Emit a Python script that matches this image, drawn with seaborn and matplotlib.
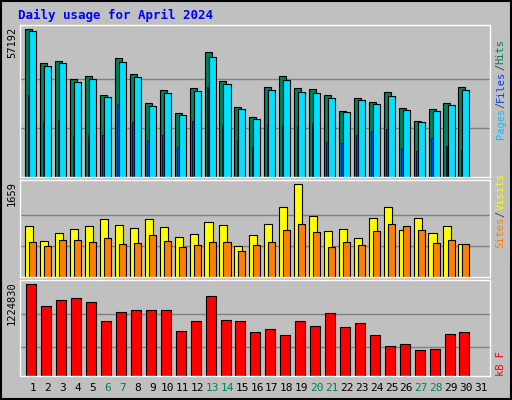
import numpy as np
import seaborn as sns
import matplotlib.pyplot as plt

days = np.arange(1, 31)
hits = [57192, 43990, 44770, 37780, 38950, 31570, 45930, 39720, 28470, 33640,
        24970, 34290, 48260, 37010, 27300, 23420, 34680, 38950, 34290, 33900,
        31570, 25750, 30410, 29240, 32740, 26910, 21870, 26530, 28850, 34680]
files = [56680, 43090, 44250, 36880, 38040, 31060, 44640, 38820, 27560, 32610,
         24070, 33390, 46580, 36100, 26400, 22520, 33770, 37660, 33000, 32610,
         30670, 25230, 29890, 28340, 31440, 26010, 21350, 25620, 27950, 33770]
pages = [31830, 21350, 22130, 15920, 16300, 16300, 28340, 21350, 14360, 16300,
         11650, 21740, 34940, 20190, 14360, 11650, 20570, 20190, 19800, 20960,
         13590, 13200, 16300, 17860, 18630, 11260, 10090, 15140, 12030, 10480]
visits = [920, 649, 793, 865, 920, 1046, 938, 883, 1046, 902,
          721, 775, 992, 938, 559, 757, 956, 1262, 1659, 1100,
          829, 865, 703, 1064, 1262, 847, 1064, 793, 920, 595]
sites = [631, 559, 667, 667, 631, 703, 595, 613, 757, 649,
         541, 577, 631, 631, 469, 577, 631, 847, 956, 811,
         541, 631, 577, 829, 956, 919, 847, 613, 667, 595]
kbytes = [1224830, 928800, 1009600, 1036500, 982700, 740400, 861500, 888400, 888400, 888400,
          605700, 740400, 1063400, 753800, 740400, 592300, 632700, 551900, 740400, 673000,
          848000, 659600, 713400, 551900, 403800, 430800, 350000, 363400, 565400, 592300]
weekends = [6, 7, 13, 14, 20, 21, 27, 28]

sns.set_style("white")
plt.rcParams['font.family'] = ['DejaVu Sans Mono']

BG = '#C0C0C0'
fig = plt.figure(figsize=(5.12, 4.0), dpi=100, facecolor=BG)
fig.patches.append(plt.Rectangle((0.002, 0.002), 0.996, 0.996, transform=fig.transFigure,
                                 fill=False, edgecolor='black', lw=1.5))
fig.text(18 / 512, 1 - 15 / 400, 'Daily usage for April 2024', color='#0000FF',
         fontsize=9, fontweight='bold', va='center', ha='left')

L, W = 20 / 512, 470 / 512
ax1 = fig.add_axes([L, 223 / 400, W, 152 / 400])
ax2 = fig.add_axes([L, 123 / 400, W, 97 / 400])
ax3 = fig.add_axes([L, 24 / 400, W, 96 / 400])

kw = dict(edgecolor='black', linewidth=0.8, align='center')
ax1.bar(days - 0.28, hits, width=0.47, color='#00805C', **kw)
ax1.bar(days - 0.01, files, width=0.47, color='#00E0FF', **kw)
ax1.bar(days - 0.30, pages, width=0.1, color='#0040FF', edgecolor='black', linewidth=0.5)
ax1.set_ylim(0, 58870)
grid1 = [19064, 38128]

ax2.bar(days - 0.25, visits, width=0.54, color='#FFFF00', **kw)
ax2.bar(days - 0.01, sites, width=0.47, color='#FF8000', **kw)
ax2.set_ylim(0, 1737)
grid2 = [553, 1106]

ax3.bar(days - 0.11, kbytes, width=0.67, color='#FF0000', **kw)
ax3.set_ylim(0, 1282700)
grid3 = [390000, 834000]

for ax, g, top in [(ax1, grid1, '57192'), (ax2, grid2, '1659'), (ax3, grid3, '1224830')]:
    ax.set_facecolor(BG)
    ax.set_xlim(0.13, 31.6)
    for v in g:
        ax.axhline(v, color='#808080', lw=1, zorder=0)
    ax.set_xticks([])
    ax.set_yticks([])
    for s in ax.spines.values():
        s.set_color('white')
        s.set_linewidth(1)
    ax.text(-0.006, 0.99, top, transform=ax.transAxes, rotation=90, ha='right', va='top',
            fontsize=7.5, color='black')

for d in range(1, 32):
    ax3.text(d, -0.13, str(d), transform=ax3.get_xaxis_transform(), ha='center', va='center',
             fontsize=8, color='#00805C' if d in weekends else 'black')


# right-hand legends: words chained one above the other
def stacked(ax, parts, start):
    prev = ax.text(1.012, start, parts[0][0], transform=ax.transAxes, rotation=90,
                   ha='left', va='bottom', fontsize=7.5, color=parts[0][1])
    for txt, col in parts[1:]:
        prev = ax.annotate(txt, xy=(0, 1), xycoords=prev, rotation=90, ha='left',
                           va='bottom', fontsize=7.5, color=col)


stacked(ax1, [('Pages', '#00C0FF'), ('/', '#404040'), ('Files', '#0040FF'),
              ('/', '#404040'), ('Hits', '#00805C')], 0.25)
stacked(ax2, [('Sites', '#FF8000'), ('/', '#404040'), ('Visits', '#FFFF00')], 0.3)
stacked(ax3, [('kB F', '#FF0000')], 0.0)

fig.savefig('out.png', dpi=100, facecolor=BG)
